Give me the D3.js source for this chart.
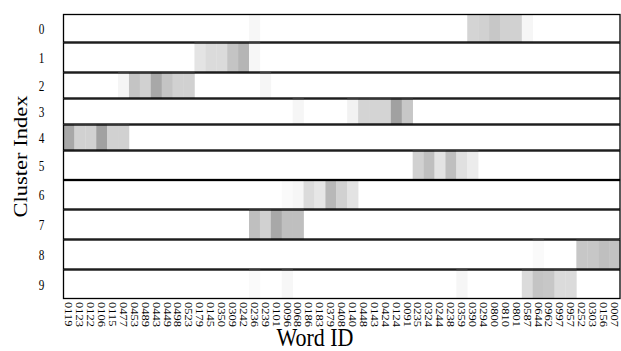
<!DOCTYPE html>
<html>
<head>
<meta charset="utf-8">
<script src="https://cdn.jsdelivr.net/npm/d3@7"></script>
<style>
  body { margin: 0; background: #fff; }
  text { font-family: 'Liberation Serif', 'Times New Roman', serif; fill: #000; }
</style>
</head>
<body>
<div id="chart"></div>
<script>
// Data: topic-word weights per cluster (rows) over the selected word IDs (columns)
const clusters = [0, 1, 2, 3, 4, 5, 6, 7, 8, 9];
const wordIds = [
    '0119', '0123', '0122', '0106', '0115', '0477', '0453', '0489', '0443', '0449',
    '0498', '0523', '0179', '0145', '0350', '0309', '0242', '0236', '0239', '0101',
    '0096', '0068', '0186', '0183', '0379', '0408', '0140', '0448', '0143', '0424',
    '0124', '0091', '0235', '0324', '0244', '0238', '0359', '0390', '0294', '0800',
    '0810', '0801', '0587', '0644', '0962', '0997', '0957', '0252', '0303', '0156',
    '0007'
];
//                 0    1    2    3    4    5    6    7    8    9   10   11   12   13   14   15   16   17   18   19   20   21   22   23   24   25   26   27   28   29   30   31   32   33   34   35   36   37   38   39   40   41   42   43   44   45   46   47   48   49   50
const cluster0 = [  0,   0,   0,   0,   0,   0,   0,   0,   0,   0,   0,   0,   0,   0,   0,   0,   0, .03,   0,   0,   0,   0,   0,   0,   0,   0,   0,   0,   0,   0,   0,   0,   0,   0,   0,   0,   0, .17, .18, .22, .18, .18,.035,   0,   0,   0,   0,   0,   0,   0,   0];
const cluster1 = [  0,   0,   0,   0,   0,   0,   0,   0,   0,   0,   0,   0, .105, .14, .14, .23, .29, .03,   0,   0,   0,   0,   0,   0,   0,   0,   0,   0,   0,   0,   0,   0,   0,   0,   0,   0,   0,   0,   0,   0,   0,   0,   0,   0,   0,   0,   0,   0,   0,   0,   0];
const cluster2 = [  0,   0,   0,   0,   0, .04, .23, .18, .34, .23, .18, .18,   0,   0,   0,   0,   0,   0,.035,   0,   0,   0,   0,   0,   0,   0,   0,   0,   0,   0,   0,   0,   0,   0,   0,   0,   0,   0,   0,   0,   0,   0,   0,   0,   0,   0,   0,   0,   0,   0,   0];
const cluster3 = [  0,   0,   0,   0,   0,   0,   0,   0,   0,   0,   0,   0,   0,   0,   0,   0,   0,   0,   0,   0,   0,.035,   0,   0,   0,   0, .05, .17, .17, .17, .37, .22,   0,   0,   0,   0,   0,   0,   0,   0,   0,   0,   0,   0,   0,   0,   0,   0,   0,   0,   0];
const cluster4 = [.34, .18, .18, .37, .18, .18,   0,   0,   0,   0,   0,   0,   0,   0,   0,   0,   0,   0,   0,   0,   0,   0,   0,   0,   0,   0,   0,   0,   0,   0,   0,   0,   0,   0,   0,   0,   0,   0,   0,   0,   0,   0,   0,   0,   0,   0,   0,   0,   0,   0,   0];
const cluster5 = [  0,   0,   0,   0,   0,   0,   0,   0,   0,   0,   0,   0,   0,   0,   0,   0,   0,   0,   0,   0,   0,   0,   0,   0,   0,   0,   0,   0,   0,   0,   0,   0, .18, .25, .11, .25, .12,.075,   0,   0,   0,   0,   0,   0,   0,   0,   0,   0,   0,   0,   0];
const cluster6 = [  0,   0,   0,   0,   0,   0,   0,   0,   0,   0,   0,   0,   0,   0,   0,   0,   0,   0,   0,   0, .02,.035, .14, .10, .28, .18, .11,   0,   0,   0,   0,   0,   0,   0,   0,   0,   0,   0,   0,   0,   0,   0,   0,   0,   0,   0,   0,   0,   0,   0,   0];
const cluster7 = [  0,   0,   0,   0,   0,   0,   0,   0,   0,   0,   0,   0,   0,   0,   0,   0,   0, .25, .18, .34, .25, .25,   0,   0,   0,   0,   0,   0,   0,   0,   0,   0,   0,   0,   0,   0,   0,   0,   0,   0,   0,   0,   0,   0,   0,   0,   0,   0,   0,   0,   0];
const cluster8 = [  0,   0,   0,   0,   0,   0,   0,   0,   0,   0,   0,   0,   0,   0,   0,   0,   0,   0,   0,   0,   0,   0,   0,   0,   0,   0,   0,   0,   0,   0,   0,   0,   0,   0,   0,   0,   0,   0,   0,   0,   0,   0,   0, .02,   0,   0,   0, .22, .22, .25, .24];
const cluster9 = [  0,   0,   0,   0,   0,   0,   0,   0,   0,   0,   0,   0,   0,   0,   0,   0,   0, .02,   0,   0, .03,   0,   0,   0,   0,   0,   0,   0,   0,   0,   0,   0,   0,   0,   0,   0,.035,   0,   0,   0,   0,   0, .14, .23, .22, .14, .14,   0,   0,   0,   0];
const weights = [cluster0, cluster1, cluster2, cluster3, cluster4, cluster5, cluster6, cluster7, cluster8, cluster9];

// Layout (the subplots are not all the same height)
const width = 621, height = 351;
const plotLeft = 63.5, plotRight = 620, plotTop = 14;
const rowHeights = [28.5, 30, 26, 26, 26, 29.5, 29.5, 30, 30, 29.5];
const rowTops = rowHeights.map((h, i) => plotTop + d3.sum(rowHeights.slice(0, i)));
const plotBottom = plotTop + d3.sum(rowHeights);

const svg = d3.select('#chart')
    .append('svg')
    .attr('width', width)
    .attr('height', height);

const x = d3.scaleBand()
    .domain(d3.range(wordIds.length))
    .range([plotLeft, plotRight]);

const yTop = d3.scaleOrdinal().domain(clusters).range(rowTops);
const yHeight = d3.scaleOrdinal().domain(clusters).range(rowHeights);

const color = d3.scaleLinear().domain([0, 1]).range(['#ffffff', '#000000']);

// Rows
const rows = svg.append('g')
    .selectAll('g')
    .data(clusters)
    .join('g')
    .attr('class', 'row');

rows.selectAll('rect.cell')
    .data(c => weights[c].map((v, i) => ({ c, i, v })).filter(d => d.v > 0))
    .join('rect')
    .attr('class', 'cell')
    .attr('x', d => x(d.i))
    .attr('y', d => yTop(d.c))
    .attr('width', x.bandwidth() + 0.3)
    .attr('height', d => yHeight(d.c))
    .attr('fill', d => color(d.v));

rows.append('rect')
    .attr('x', plotLeft)
    .attr('y', c => yTop(c) + 0.5)
    .attr('width', plotRight - plotLeft)
    .attr('height', c => yHeight(c) - 1)
    .attr('fill', 'none')
    .attr('stroke', '#000')
    .attr('stroke-width', 1.3);

// Row labels
rows.append('text')
    .text(c => c)
    .attr('transform', c => `translate(41.5,${yTop(c) + yHeight(c) / 2}) scale(0.75,1)`)
    .attr('text-anchor', 'middle')
    .attr('dy', '0.35em')
    .attr('font-size', '15px');

// Word ID axis
const xAxis = svg.append('g')
    .attr('transform', `translate(0,${plotBottom})`)
    .call(d3.axisBottom(x).tickSize(0).tickFormat(i => wordIds[i]));

xAxis.select('.domain').remove();
xAxis.selectAll('text')
    .attr('x', 0)
    .attr('y', 0)
    .attr('dy', '0.35em')
    .attr('text-anchor', 'start')
    .attr('transform', 'translate(0,3) scale(0.83,1) rotate(90)')
    .style('font-family', "'Liberation Serif', serif")
    .style('font-size', '12.5px');

// Axis titles
svg.append('text')
    .text('Word ID')
    .attr('transform', `translate(315,${height - 5}) scale(0.88,1)`)
    .attr('text-anchor', 'middle')
    .attr('font-size', '25px');

svg.append('text')
    .text('Cluster Index')
    .attr('transform', `translate(27,${(plotTop + plotBottom) / 2}) scale(0.87,1) rotate(-90)`)
    .attr('text-anchor', 'middle')
    .attr('font-size', '22.5px');
</script>
</body>
</html>
